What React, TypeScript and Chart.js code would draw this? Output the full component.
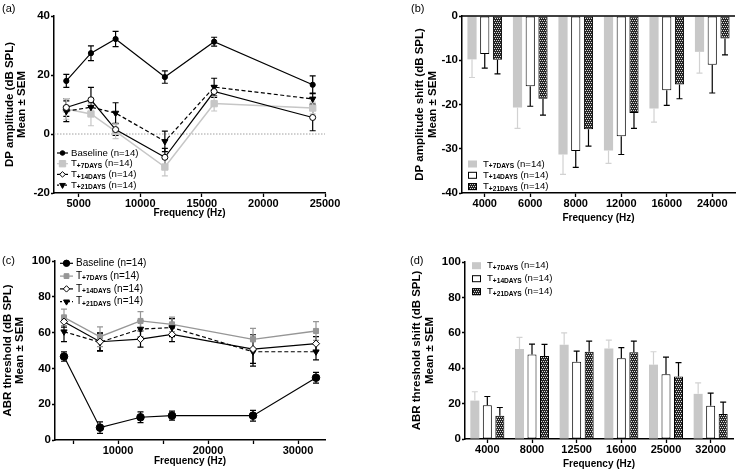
import React, { useEffect, useRef } from 'react';
import { Chart, registerables } from 'chart.js';
import { drawPoint } from 'chart.js/helpers';

Chart.register(...registerables);

const FONT = '"Liberation Sans", Arial, Helvetica, sans-serif';
Chart.defaults.font.family = FONT;
Chart.defaults.color = '#000';

// ---------- text ----------
const panelLabels = ['(a)', '(b)', '(c)', '(d)'];
const dpTitle = ['DP amplitude (dB SPL)', 'Mean \u00b1 SEM'];
const dpShiftTitle = ['DP amplitude shift (dB SPL)', 'Mean \u00b1 SEM'];
const abrTitle = ['ABR threshold (dB SPL)', 'Mean \u00b1 SEM'];
const abrShiftTitle = ['ABR threshold shift (dB SPL)', 'Mean \u00b1 SEM'];
const xTitle = 'Frequency (Hz)';
const seriesMain = ['Baseline', 'T', 'T', 'T'];
const seriesSub = ['', '+7DAYS', '+14DAYS', '+21DAYS'];
const seriesSuffix = ' (n=14)';

// ---------- panel (a): DP amplitude ----------
const dpFreqs = [4000, 6000, 8000, 12000, 16000, 24000];
const dpBaseline = [18.0, 27.4, 32.2, 19.3, 31.3, 16.7];
const dpBaselineSem = [2.2, 2.5, 2.6, 2.1, 1.5, 3.0];
const dpT7 = [8.5, 6.8, 0.9, -11.2, 10.3, 8.8];
const dpT7Sem = [3.5, 4.0, 2.5, 3.0, 2.5, 2.0];
const dpT14 = [9.0, 11.6, 1.5, -7.9, 14.4, 5.6];
const dpT14Sem = [3.0, 4.2, 2.0, 3.0, 2.0, 4.5];
const dpT21 = [7.7, 9.1, 7.1, -2.5, 15.9, 11.9];
const dpT21Sem = [3.5, 1.5, 3.5, 3.5, 3.0, 2.0];
const dpXTicks = [5000, 10000, 15000, 20000, 25000];
const dpYTicks = [-20, 0, 20, 40];

// ---------- panel (b): DP amplitude shift ----------
const dpShiftCats = ['4000', '6000', '8000', '12000', '16000', '24000'];
const dpShiftT7 = [-9.8, -20.7, -31.3, -30.4, -20.9, -8.1];
const dpShiftT7Sem = [4.1, 4.7, 4.5, 2.9, 3.1, 4.8];
const dpShiftT14 = [-8.6, -15.9, -30.5, -27.2, -16.8, -11.0];
const dpShiftT14Sem = [3.2, 4.5, 3.7, 4.1, 3.4, 6.4];
const dpShiftT21 = [-9.9, -18.7, -25.6, -21.9, -15.5, -5.1];
const dpShiftT21Sem = [3.2, 3.7, 3.8, 3.5, 3.2, 3.7];
const dpShiftYTicks = [-40, -30, -20, -10, 0];

// ---------- panel (c): ABR threshold ----------
const abrFreqs = [4000, 8000, 12500, 16000, 25000, 32000];
const abrBaseline = [46.6, 6.9, 12.7, 13.6, 13.6, 34.8];
const abrBaselineSem = [2.6, 3.2, 3.0, 2.5, 3.0, 3.0];
const abrT7 = [68.5, 57.7, 66.5, 64.6, 56.2, 60.9];
const abrT7Sem = [4.6, 5.5, 5.2, 4.0, 6.2, 5.2];
const abrT14 = [66.1, 54.9, 56.4, 59.0, 50.8, 53.8];
const abrT14Sem = [3.0, 5.0, 4.5, 4.0, 8.0, 4.0];
const abrT21 = [60.5, 54.6, 62.0, 62.8, 49.3, 49.3];
const abrT21Sem = [5.5, 5.0, 4.5, 5.0, 8.0, 4.5];
const abrXTicks = [5000, 10000, 15000, 20000, 25000, 30000];
const abrXLabelled = [10000, 20000, 30000];
const abrYTicks = [0, 20, 40, 60, 80, 100];

// ---------- panel (d): ABR threshold shift ----------
const abrShiftCats = ['4000', '8000', '12500', '16000', '25000', '32000'];
const abrShiftT7 = [21.7, 50.8, 53.3, 51.2, 42.0, 25.5];
const abrShiftT7Sem = [5.0, 6.6, 6.7, 4.7, 7.3, 6.2];
const abrShiftT14 = [19.0, 47.8, 43.7, 45.6, 36.6, 18.8];
const abrShiftT14Sem = [5.0, 5.8, 6.0, 6.0, 9.7, 7.1];
const abrShiftT21 = [13.1, 46.9, 49.3, 49.0, 35.3, 14.1];
const abrShiftT21Sem = [4.7, 6.6, 6.0, 6.3, 7.9, 6.7];

// ---------- plugins ----------
function errorBarPlugin(cfg: any) {
  const draw = (chart: any) => {
    const ctx = chart.ctx;
    const ys = chart.scales.y;
    chart.data.datasets.forEach((ds: any, di: number) => {
      const errs = ds.errors;
      if (!errs) return;
      const meta = chart.getDatasetMeta(di);
      ctx.save();
      ctx.strokeStyle = ds.errorColor || '#000';
      ctx.lineWidth = cfg.lineWidth || 1.2;
      const half = cfg.cap / 2;
      meta.data.forEach((el: any, i: number) => {
        const raw = ds.data[i];
        const v = typeof raw === 'number' ? raw : raw.y;
        const e = errs[i];
        const x = el.x;
        ctx.beginPath();
        if (cfg.mode === 'away') {
          const s = v < 0 ? -1 : 1;
          const p0 = ys.getPixelForValue(v);
          const p1 = ys.getPixelForValue(v + s * e);
          ctx.moveTo(x, p0); ctx.lineTo(x, p1);
          ctx.moveTo(x - half, p1); ctx.lineTo(x + half, p1);
        } else {
          const p0 = ys.getPixelForValue(v - e);
          const p1 = ys.getPixelForValue(v + e);
          ctx.moveTo(x, p0); ctx.lineTo(x, p1);
          ctx.moveTo(x - half, p0); ctx.lineTo(x + half, p0);
          ctx.moveTo(x - half, p1); ctx.lineTo(x + half, p1);
        }
        ctx.stroke();
      });
      ctx.restore();
    });
  };
  return {
    id: 'errorBars',
    beforeDatasetsDraw(chart: any) { if (!cfg.above) draw(chart); },
    afterDatasetsDraw(chart: any) { if (cfg.above) draw(chart); },
  };
}

function refLinePlugin(cfg: any) {
  const draw = (chart: any) => {
    const ctx = chart.ctx;
    const a = chart.chartArea;
    const y = chart.scales.y.getPixelForValue(cfg.value);
    ctx.save();
    ctx.strokeStyle = cfg.color;
    ctx.lineWidth = cfg.width;
    ctx.setLineDash(cfg.dash || []);
    ctx.beginPath();
    ctx.moveTo(a.left, y);
    ctx.lineTo(a.right, y);
    ctx.stroke();
    ctx.restore();
  };
  return {
    id: 'refLine',
    beforeDatasetsDraw(chart: any) { if (!cfg.above) draw(chart); },
    afterDatasetsDraw(chart: any) { if (cfg.above) draw(chart); },
  };
}

function legendPlugin(cfg: any) {
  return {
    id: 'customLegend',
    afterDraw(chart: any) {
      const ctx = chart.ctx;
      ctx.save();
      cfg.items.forEach((it: any, i: number) => {
        const cy = cfg.y + i * cfg.rowH;
        const x = cfg.x;
        if (it.kind === 'line') {
          ctx.strokeStyle = it.lineColor;
          ctx.lineWidth = 1.2;
          ctx.setLineDash(it.dash || []);
          ctx.beginPath();
          ctx.moveTo(x, cy);
          ctx.lineTo(x + cfg.markerW, cy);
          ctx.stroke();
          ctx.setLineDash([]);
          ctx.fillStyle = it.fill;
          ctx.strokeStyle = it.stroke;
          ctx.lineWidth = 1;
          drawPoint(ctx, { pointStyle: it.pointStyle, rotation: it.rotation || 0, radius: it.radius, borderWidth: 1 } as any, x + cfg.markerW / 2, cy);
        } else {
          ctx.fillStyle = it.fill;
          ctx.fillRect(x, cy - cfg.boxH / 2, cfg.markerW, cfg.boxH);
          if (it.stroke) {
            ctx.strokeStyle = it.stroke;
            ctx.lineWidth = 1;
            ctx.strokeRect(x + 0.5, cy - cfg.boxH / 2 + 0.5, cfg.markerW - 1, cfg.boxH - 1);
          }
        }
        let tx = x + cfg.markerW + cfg.gap;
        ctx.fillStyle = '#000';
        ctx.textAlign = 'left';
        ctx.textBaseline = 'middle';
        ctx.font = `${cfg.fontSize}px ${FONT}`;
        ctx.fillText(it.main, tx, cy);
        tx += ctx.measureText(it.main).width;
        if (it.sub) {
          ctx.font = `bold ${cfg.subSize}px ${FONT}`;
          ctx.fillText(it.sub, tx, cy + 2.3);
          tx += ctx.measureText(it.sub).width;
          ctx.font = `${cfg.fontSize}px ${FONT}`;
        }
        ctx.fillText(it.suffix, tx, cy);
      });
      ctx.restore();
    },
  };
}

// ---------- scale helpers ----------
const tickFont = { size: 11.5, weight: 'bold' as const };
const gridOpts = (len: number) => ({ display: true, drawOnChartArea: false, drawTicks: true, tickLength: len, tickWidth: 1.3, tickColor: '#000', offset: false });
const borderOpts = { display: true, color: '#000', width: 1.5 };

function linearY(min: number, max: number, ticks: number[], boxW: number, title: string[], titlePad: number) {
  return {
    type: 'linear', min, max,
    afterBuildTicks: (s: any) => { s.ticks = ticks.map((v) => ({ value: v })); },
    afterFit: (s: any) => { s.width = boxW; },
    grid: gridOpts(3),
    border: borderOpts,
    ticks: { color: '#000', padding: 1, font: tickFont, callback: (v: any) => String(v) },
    title: { display: true, text: title, color: '#000', font: { size: 11.5, weight: 'bold', lineHeight: 1.12 }, padding: { top: titlePad, bottom: 0 } },
  };
}

function linearX(min: number, max: number, ticks: number[], boxH: number, fmt: (v: number) => string, titlePad: number) {
  return {
    type: 'linear', min, max,
    afterBuildTicks: (s: any) => { s.ticks = ticks.map((v) => ({ value: v })); },
    afterFit: (s: any) => { s.height = boxH; },
    grid: gridOpts(4),
    border: borderOpts,
    ticks: { color: '#000', padding: 0, maxRotation: 0, autoSkip: false, font: { size: 11, weight: 'bold' }, callback: (v: any) => fmt(v) },
    title: { display: true, text: xTitle, color: '#000', font: { size: 10, weight: 'bold', lineHeight: 1.2 }, padding: { top: 0, bottom: titlePad } },
  };
}

function catX(boxH: number, titlePad: number) {
  return {
    type: 'category', offset: true,
    afterFit: (s: any) => { s.height = boxH; },
    grid: gridOpts(4),
    border: borderOpts,
    ticks: { color: '#000', padding: 0, maxRotation: 0, autoSkip: false, font: { size: 11, weight: 'bold' } },
    title: { display: true, text: xTitle, color: '#000', font: { size: 10, weight: 'bold', lineHeight: 1.2 }, padding: { top: 0, bottom: titlePad } },
  };
}

function makePattern(ctx: CanvasRenderingContext2D) {
  const c = document.createElement('canvas');
  c.width = 4; c.height = 4;
  const g = c.getContext('2d')!;
  g.fillStyle = '#262626';
  g.fillRect(0, 0, 4, 4);
  g.fillStyle = '#dcdcdc';
  g.fillRect(0, 0, 1, 1);
  g.fillRect(2, 0, 1, 1);
  g.fillRect(1, 2, 1, 1);
  g.fillRect(3, 2, 1, 1);
  return ctx.createPattern(c, 'repeat');
}

const baseOpts = (W: number, R: number, T: number) => ({
  responsive: false,
  animation: false,
  devicePixelRatio: 1,
  layout: { padding: { left: 0, top: T, right: W - R, bottom: 0 } },
  plugins: { legend: { display: false }, tooltip: { enabled: false } },
});

const GRAY_A = '#c6c6c6';
const GRAY_C = '#969696';
const GRAY_BAR = '#c8c8c8';
const LEG_FONT = 9.6;
const LEG_SUB = 6.6;

// ---------- chart configs ----------
function makeA(_ctx: CanvasRenderingContext2D) {
  const W = 368, H = 235, L = 54, R = 325, T = 16, B = 193;
  const pts = (ys: number[]) => dpFreqs.map((f, i) => ({ x: f, y: ys[i] }));
  return {
    type: 'line',
    data: {
      datasets: [
        { data: pts(dpBaseline), errors: dpBaselineSem, errorColor: '#000', borderColor: '#000', borderWidth: 1.2, pointStyle: 'circle', pointRadius: 2.6, pointBackgroundColor: '#000', pointBorderColor: '#000', pointBorderWidth: 1 },
        { data: pts(dpT14), errors: dpT14Sem, errorColor: '#000', borderColor: '#000', borderWidth: 1.2, pointStyle: 'circle', pointRadius: 3, pointBackgroundColor: '#fff', pointBorderColor: '#000', pointBorderWidth: 1 },
        { data: pts(dpT21), errors: dpT21Sem, errorColor: '#000', borderColor: '#000', borderWidth: 1.2, borderDash: [4, 2.5], pointStyle: 'triangle', pointRotation: 180, pointRadius: 3.6, pointBackgroundColor: '#000', pointBorderColor: '#000', pointBorderWidth: 1 },
        { data: pts(dpT7), errors: dpT7Sem, errorColor: GRAY_A, borderColor: GRAY_A, borderWidth: 1.5, pointStyle: 'rect', pointRadius: 4.5, pointBackgroundColor: GRAY_A, pointBorderColor: GRAY_A, pointBorderWidth: 1 },
      ],
    },
    options: {
      ...baseOpts(W, R, T),
      scales: {
        x: linearX(3000, 25000, dpXTicks, H - B, (v) => String(v), 16),
        y: linearY(-20, 40, dpYTicks, L, dpTitle, 3),
      },
    },
    plugins: [
      refLinePlugin({ value: 0, color: '#a0a0a0', dash: [1.5, 1.5], width: 1, above: false }),
      errorBarPlugin({ mode: 'both', cap: 6 }),
      legendPlugin({
        x: 57, y: 153, rowH: 10.7, markerW: 11, gap: 3, fontSize: LEG_FONT, subSize: LEG_SUB,
        items: [
          { kind: 'line', lineColor: '#000', fill: '#000', stroke: '#000', pointStyle: 'circle', radius: 2.3, main: seriesMain[0], sub: seriesSub[0], suffix: seriesSuffix },
          { kind: 'line', lineColor: GRAY_A, fill: GRAY_A, stroke: GRAY_A, pointStyle: 'rect', radius: 4.5, main: seriesMain[1], sub: seriesSub[1], suffix: seriesSuffix },
          { kind: 'line', lineColor: '#000', fill: '#fff', stroke: '#000', pointStyle: 'rectRot', radius: 2.8, main: seriesMain[2], sub: seriesSub[2], suffix: seriesSuffix },
          { kind: 'line', lineColor: '#000', dash: [2, 2], fill: '#000', stroke: '#000', pointStyle: 'triangle', rotation: 180, radius: 3.3, main: seriesMain[3], sub: seriesSub[3], suffix: seriesSuffix },
        ],
      }),
    ],
  };
}

function barSets(t7: number[], t7s: number[], t14: number[], t14s: number[], t21: number[], t21s: number[], pattern: any) {
  const common = { categoryPercentage: 0.84, barPercentage: 0.72 };
  return [
    { data: t7, errors: t7s, errorColor: '#d2d2d2', backgroundColor: GRAY_BAR, borderWidth: 0, ...common },
    { data: t14, errors: t14s, errorColor: '#000', backgroundColor: '#fff', borderColor: '#000', borderWidth: 1, borderSkipped: false, ...common },
    { data: t21, errors: t21s, errorColor: '#000', backgroundColor: pattern, borderColor: '#000', borderWidth: 1, borderSkipped: false, ...common },
  ];
}

function boxLegendItems(pattern: any) {
  return [
    { kind: 'box', fill: GRAY_BAR, main: seriesMain[1], sub: seriesSub[1], suffix: seriesSuffix },
    { kind: 'box', fill: '#fff', stroke: '#000', main: seriesMain[2], sub: seriesSub[2], suffix: seriesSuffix },
    { kind: 'box', fill: pattern, stroke: '#000', main: seriesMain[3], sub: seriesSub[3], suffix: seriesSuffix },
  ];
}

function makeB(ctx: CanvasRenderingContext2D) {
  const W = 368, H = 235, L = 94, R = 367, T = 16, B = 193;
  const pattern = makePattern(ctx);
  return {
    type: 'bar',
    data: {
      labels: dpShiftCats,
      datasets: barSets(dpShiftT7, dpShiftT7Sem, dpShiftT14, dpShiftT14Sem, dpShiftT21, dpShiftT21Sem, pattern),
    },
    options: {
      ...baseOpts(W, R, T),
      scales: {
        x: catX(H - B, 11),
        y: linearY(-40, 0, dpShiftYTicks, L, dpShiftTitle, 45.5),
      },
    },
    plugins: [
      errorBarPlugin({ mode: 'away', cap: 6, above: true }),
      refLinePlugin({ value: 0, color: '#000', width: 1.5, above: true }),
      legendPlugin({ x: 100, y: 164, rowH: 11.3, markerW: 9, boxH: 7, gap: 6, fontSize: LEG_FONT, subSize: LEG_SUB, items: boxLegendItems(pattern) }),
    ],
  };
}

function makeC(_ctx: CanvasRenderingContext2D) {
  const W = 368, H = 235, L = 55, R = 325, T = 26, B = 205;
  const pts = (ys: number[]) => abrFreqs.map((f, i) => ({ x: f, y: ys[i] }));
  return {
    type: 'line',
    data: {
      datasets: [
        { data: pts(abrBaseline), errors: abrBaselineSem, errorColor: '#000', borderColor: '#000', borderWidth: 1.2, pointStyle: 'circle', pointRadius: 3.8, pointBackgroundColor: '#000', pointBorderColor: '#000', pointBorderWidth: 1 },
        { data: pts(abrT14), errors: abrT14Sem, errorColor: '#000', borderColor: '#000', borderWidth: 1.2, pointStyle: 'rectRot', pointRadius: 3.6, pointBackgroundColor: '#fff', pointBorderColor: '#000', pointBorderWidth: 1 },
        { data: pts(abrT21), errors: abrT21Sem, errorColor: '#000', borderColor: '#000', borderWidth: 1.2, borderDash: [4, 2.5], pointStyle: 'triangle', pointRotation: 180, pointRadius: 3.6, pointBackgroundColor: '#000', pointBorderColor: '#000', pointBorderWidth: 1 },
        { data: pts(abrT7), errors: abrT7Sem, errorColor: GRAY_C, borderColor: GRAY_C, borderWidth: 1.3, pointStyle: 'rect', pointRadius: 3.6, pointBackgroundColor: GRAY_C, pointBorderColor: GRAY_C, pointBorderWidth: 1 },
      ],
    },
    options: {
      ...baseOpts(W, R, T),
      scales: {
        x: linearX(3000, 33000, abrXTicks, H - B, (v) => (abrXLabelled.includes(v) ? String(v) : ''), 3),
        y: linearY(0, 100, abrYTicks, L, abrTitle, 1),
      },
    },
    plugins: [
      errorBarPlugin({ mode: 'both', cap: 6 }),
      legendPlugin({
        x: 60, y: 28.3, rowH: 12.8, markerW: 13, gap: 3, fontSize: LEG_FONT + 0.4, subSize: LEG_SUB,
        items: [
          { kind: 'line', lineColor: '#000', fill: '#000', stroke: '#000', pointStyle: 'circle', radius: 3.2, main: seriesMain[0], sub: seriesSub[0], suffix: seriesSuffix },
          { kind: 'line', lineColor: GRAY_C, fill: GRAY_C, stroke: GRAY_C, pointStyle: 'rect', radius: 3.4, main: seriesMain[1], sub: seriesSub[1], suffix: seriesSuffix },
          { kind: 'line', lineColor: '#000', fill: '#fff', stroke: '#000', pointStyle: 'rectRot', radius: 3.2, main: seriesMain[2], sub: seriesSub[2], suffix: seriesSuffix },
          { kind: 'line', lineColor: '#000', dash: [2, 2], fill: '#000', stroke: '#000', pointStyle: 'triangle', rotation: 180, radius: 3.4, main: seriesMain[3], sub: seriesSub[3], suffix: seriesSuffix },
        ],
      }),
    ],
  };
}

function makeD(ctx: CanvasRenderingContext2D) {
  const W = 368, H = 235, L = 97, R = 365, T = 27, B = 204;
  const pattern = makePattern(ctx);
  return {
    type: 'bar',
    data: {
      labels: abrShiftCats,
      datasets: barSets(abrShiftT7, abrShiftT7Sem, abrShiftT14, abrShiftT14Sem, abrShiftT21, abrShiftT21Sem, pattern),
    },
    options: {
      ...baseOpts(W, R, T),
      scales: {
        x: catX(H - B, 0),
        y: linearY(0, 100, abrYTicks, L, abrShiftTitle, 42.5),
      },
    },
    plugins: [
      errorBarPlugin({ mode: 'away', cap: 6, above: true }),
      legendPlugin({ x: 104, y: 30.7, rowH: 13, markerW: 9, boxH: 7, gap: 6, fontSize: LEG_FONT, subSize: LEG_SUB, items: boxLegendItems(pattern) }),
    ],
  };
}

// ---------- components ----------
function Panel({ x, y, w, h, make }: any) {
  const ref = useRef<HTMLCanvasElement>(null);
  useEffect(() => {
    const cv = ref.current!;
    const chart = new Chart(cv, make(cv.getContext('2d')) as any);
    return () => chart.destroy();
  }, [make]);
  return <canvas ref={ref} width={w} height={h} style={{ position: 'absolute', left: x, top: y, width: w, height: h }} />;
}

const labelPos = [
  { left: 2, top: 2 },
  { left: 411, top: 2 },
  { left: 2, top: 254 },
  { left: 410, top: 254 },
];

export default function App() {
  return (
    <div style={{ position: 'fixed', left: 0, top: 0, width: 736, height: 470, background: '#fff', overflow: 'hidden' }}>
      <Panel x={0} y={0} w={368} h={235} make={makeA} />
      <Panel x={368} y={0} w={368} h={235} make={makeB} />
      <Panel x={0} y={235} w={368} h={235} make={makeC} />
      <Panel x={368} y={235} w={368} h={235} make={makeD} />
      {panelLabels.map((t, i) => (
        <div key={t} style={{ position: 'absolute', left: labelPos[i].left, top: labelPos[i].top, font: `11px ${FONT}`, lineHeight: '12px', color: '#000' }}>{t}</div>
      ))}
    </div>
  );
}
